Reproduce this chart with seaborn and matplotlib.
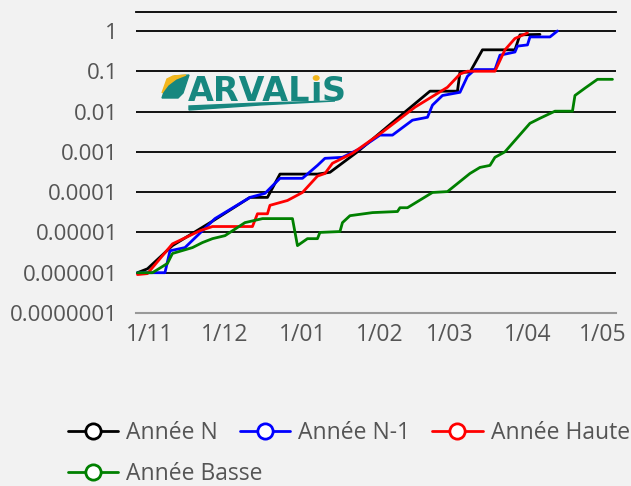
import matplotlib
matplotlib.use('Agg')
import matplotlib.pyplot as plt
import matplotlib.patches as mpatches
from matplotlib.lines import Line2D
from matplotlib.ticker import NullLocator
import pandas as pd
import seaborn as sns

OUTPUT_FILEPATH = 'out.png'

# données (campagne nov. -> mai)
dates_n = ['2024-10-27', '2024-10-31', '2024-11-10', '2024-11-26', '2024-12-11', '2024-12-18',
           '2024-12-23', '2025-01-07', '2025-01-12', '2025-01-23', '2025-02-08', '2025-02-21',
           '2025-03-04', '2025-03-05', '2025-03-09', '2025-03-14', '2025-03-27', '2025-03-29',
           '2025-04-06']
values_n = [1e-6, 1.25e-6, 4.7e-6, 1.9e-5, 7.4e-5, 7.4e-5,
            2.8e-4, 2.8e-4, 3.1e-4, 1e-3, 6.8e-3, 0.032,
            0.032, 0.095, 0.095, 0.34, 0.34, 0.8,
            0.82]

dates_n1 = ['2024-10-27', '2024-11-07', '2024-11-09', '2024-11-15', '2024-11-27', '2024-12-11',
            '2024-12-17', '2024-12-23', '2025-01-01', '2025-01-07', '2025-01-10', '2025-01-17',
            '2025-01-24', '2025-02-01', '2025-02-06', '2025-02-14', '2025-02-20', '2025-02-22',
            '2025-02-26', '2025-03-05', '2025-03-08', '2025-03-11', '2025-03-19', '2025-03-21',
            '2025-03-27', '2025-03-28', '2025-04-01', '2025-04-02', '2025-04-10', '2025-04-13']
values_n1 = [1e-6, 1e-6, 3.5e-6, 4.2e-6, 2.2e-5, 7.4e-5,
             9.3e-5, 2.2e-4, 2.2e-4, 4.6e-4, 6.9e-4, 7.3e-4,
             1.2e-3, 2.6e-3, 2.6e-3, 6.1e-3, 7.2e-3, 0.0144,
             0.025, 0.03, 0.075, 0.11, 0.11, 0.25,
             0.30, 0.42, 0.45, 0.71, 0.71, 1.0]

dates_haute = ['2024-10-27', '2024-10-31', '2024-11-10', '2024-11-21', '2024-11-26', '2024-12-12',
               '2024-12-14', '2024-12-18', '2024-12-19', '2024-12-26', '2025-01-01', '2025-01-07',
               '2025-01-10', '2025-01-13', '2025-01-21', '2025-02-02', '2025-02-15', '2025-02-28',
               '2025-03-05', '2025-03-08', '2025-03-19', '2025-03-23', '2025-03-27', '2025-04-01']
values_haute = [9e-7, 9.5e-7, 5.2e-6, 1.1e-5, 1.4e-5, 1.4e-5,
                2.9e-5, 2.9e-5, 4.7e-5, 6.2e-5, 9.8e-5, 2.5e-4,
                2.9e-4, 5.2e-4, 9.2e-4, 3.1e-3, 0.0128, 0.04,
                0.085, 0.1, 0.1, 0.34, 0.65, 0.89]

dates_basse = ['2024-10-27', '2024-11-02', '2024-11-08', '2024-11-10', '2024-11-18', '2024-11-22',
               '2024-11-26', '2024-12-01', '2024-12-09', '2024-12-16', '2024-12-28', '2024-12-30',
               '2025-01-03', '2025-01-07', '2025-01-08', '2025-01-16', '2025-01-17', '2025-01-20',
               '2025-01-29', '2025-02-08', '2025-02-09', '2025-02-12', '2025-02-22', '2025-02-28',
               '2025-03-09', '2025-03-13', '2025-03-17', '2025-03-19', '2025-03-23', '2025-04-02',
               '2025-04-06', '2025-04-12', '2025-04-19', '2025-04-20', '2025-04-24', '2025-04-29',
               '2025-05-05']
values_basse = [1e-6, 1e-6, 1.7e-6, 3e-6, 4.2e-6, 5.6e-6,
                7e-6, 8.3e-6, 1.75e-5, 2.2e-5, 2.2e-5, 4.7e-6,
                7e-6, 7e-6, 1e-5, 1.05e-5, 1.75e-5, 2.6e-5,
                3.1e-5, 3.3e-5, 4.1e-5, 4.1e-5, 9.8e-5, 1.03e-4,
                2.9e-4, 4.1e-4, 4.6e-4, 7.3e-4, 1e-3, 5.1e-3,
                6.8e-3, 0.0102, 0.0102, 0.025, 0.038, 0.063,
                0.063]

series_names = ['Année N', 'Année N-1', 'Année Haute', 'Année Basse']
colors = ['#000000', '#0000ff', '#ff0000', '#008000']

y_ticks = [1e-7, 1e-6, 1e-5, 1e-4, 1e-3, 1e-2, 1e-1, 1]
y_tick_labels = ['0.0000001', '0.000001', '0.00001', '0.0001', '0.001', '0.01', '0.1', '1']

x_ticks = ['2024-11-01', '2024-12-01', '2025-01-01', '2025-02-01', '2025-03-01', '2025-04-01', '2025-05-01']
x_tick_labels = ['1/11', '1/12', '1/01', '1/02', '1/03', '1/04', '1/05']

BG = '#f2f2f2'
TEXT_COLOR = '#555555'
TEAL = '#17877f'
YELLOW = '#f2b61c'

W, H = 631, 486


def build_df() -> pd.DataFrame:
    parts = []
    for name, d, v in zip(series_names,
                          [dates_n, dates_n1, dates_haute, dates_basse],
                          [values_n, values_n1, values_haute, values_basse]):
        parts.append(pd.DataFrame({'date': pd.to_datetime(d), 'valeur': v, 'serie': name}))
    return pd.concat(parts, ignore_index=True)


def fx(px):
    return px / W


def fy(py):
    return 1 - py / H


def draw_logo(fig):
    # feuille
    leaf = [(162, 98), (168, 80), (175, 76), (189, 75), (183, 93), (178, 98)]
    fig.patches.append(mpatches.Polygon([(fx(a), fy(b)) for a, b in leaf], closed=True,
                                        transform=fig.transFigure, color=TEAL, zorder=5))
    leaf_top = [(162, 93), (167, 79), (173, 76), (186, 75), (176, 79), (168, 85)]
    fig.patches.append(mpatches.Polygon([(fx(a), fy(b)) for a, b in leaf_top], closed=True,
                                        transform=fig.transFigure, color=YELLOW, zorder=6))
    # texte
    kw = dict(fontsize=24, weight='bold', color=TEAL, family='DejaVu Sans', va='baseline', zorder=7)
    t1 = fig.text(fx(188), fy(101), 'ARVAL', **kw)
    fig.canvas.draw()
    r = fig.canvas.get_renderer()
    b1 = t1.get_window_extent(r)
    t2 = fig.text(b1.x1 / W, fy(101), '\u0131', **kw)
    b2 = t2.get_window_extent(r)
    fig.text(b2.x1 / W, fy(101), 'S', **kw)
    fig.patches.append(mpatches.Circle(((b2.x0 + b2.x1) / 2 / W, fy(78)), 2.8 / W,
                                       transform=fig.transFigure, color=YELLOW, zorder=8))
    # trait sous le logo
    swoosh = [(189, 106), (260, 103), (335, 101), (260, 105), (189, 110)]
    fig.patches.append(mpatches.Polygon([(fx(a), fy(b)) for a, b in swoosh], closed=True,
                                        transform=fig.transFigure, color=TEAL, zorder=5))


def add_legend(fig, idx, y_top):
    handles = [Line2D([], [], color=colors[i], linewidth=2, marker='o', markersize=11,
                      markerfacecolor='white', markeredgewidth=2) for i in idx]
    labels = [series_names[i] for i in idx]
    leg = fig.legend(handles, labels, loc='upper left', bbox_to_anchor=(fx(68), fy(y_top)),
                     ncol=len(idx), frameon=False, fontsize=16.5, handlelength=2.2,
                     handletextpad=0.35, columnspacing=0.95, borderpad=0, borderaxespad=0)
    for t in leg.get_texts():
        t.set_color(TEXT_COLOR)
    return leg


def main():
    df = build_df()

    sns.set_theme(style='white')
    plt.rcParams['font.family'] = ['Open Sans', 'DejaVu Sans']

    fig = plt.figure(figsize=(W / 100, H / 100), dpi=100, facecolor=BG)
    ax = fig.add_axes([fx(136), fy(313), fx(616) - fx(136), fy(12) - fy(313)])
    ax.set_facecolor(BG)

    sns.lineplot(data=df, x='date', y='valeur', hue='serie', palette=colors,
                 hue_order=series_names, linewidth=2, legend=False, ax=ax,
                 estimator=None, sort=False)

    ax.set_yscale('log')
    ax.set_ylim(1e-7, 10 ** 0.47)
    ax.set_xlim(pd.Timestamp('2024-10-26 10:00'), pd.Timestamp('2025-05-06 10:00'))

    ax.set_yticks(y_ticks)
    ax.set_yticklabels(y_tick_labels)
    ax.yaxis.set_minor_locator(NullLocator())
    ax.set_xticks(pd.to_datetime(x_ticks))
    ax.set_xticklabels(x_tick_labels)
    ax.xaxis.set_minor_locator(NullLocator())

    ax.yaxis.grid(True, color='black', linewidth=1.3)
    ax.set_axisbelow(True)
    ax.tick_params(axis='y', length=0, pad=13, labelsize=16, labelcolor=TEXT_COLOR)
    ax.tick_params(axis='x', length=6, width=1.5, color='#999999', pad=1,
                   labelsize=16.5, labelcolor=TEXT_COLOR)

    for side in ['left', 'right']:
        ax.spines[side].set_visible(False)
    ax.spines['top'].set_color('black')
    ax.spines['top'].set_linewidth(1.3)
    ax.spines['bottom'].set_color('#999999')
    ax.spines['bottom'].set_linewidth(1.5)

    ax.set_xlabel('')
    ax.set_ylabel('')

    # légende en flux : trois entrées sur la 1re ligne, la 4e à la ligne
    add_legend(fig, [0, 1, 2], 421)
    add_legend(fig, [3], 462)

    draw_logo(fig)

    fig.savefig(OUTPUT_FILEPATH, dpi=100, facecolor=BG)


if __name__ == '__main__':
    main()
